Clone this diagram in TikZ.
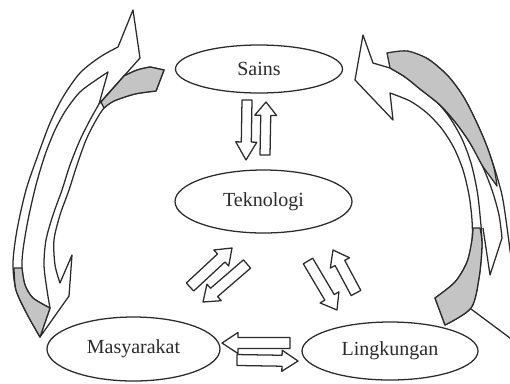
\documentclass[tikz,border=0pt]{standalone}
\usepackage{fontspec}
\setmainfont{Liberation Serif}
\usetikzlibrary{calc,shapes.geometric}
\definecolor{ink}{HTML}{2B2B2B}
\definecolor{shade}{HTML}{C4C4C4}
\tikzset{
  outline/.style={draw=ink, line width=0.95pt, line join=round},
  band/.style={outline, fill=white},
  backside/.style={outline, fill=shade},
  blob/.style={ellipse, draw=ink, line width=0.95pt, fill=white, inner sep=0pt,
    font=\fontsize{15}{15}\selectfont, text=ink},
  arrowbox/.style={outline, fill=white},
}
\newcommand\blockarrow[5]{%
  \coordinate (#1#2h) at ($(#2)!#5!(#1)$);
  \draw[arrowbox] ($(#1)!#3!90:(#2)$) -- ($(#1#2h)!#3!90:(#2)$) -- ($(#1#2h)!#4!90:(#2)$)
    -- (#2) -- ($(#1#2h)!#4!-90:(#2)$) -- ($(#1#2h)!#3!-90:(#2)$) -- ($(#1)!#3!-90:(#2)$) -- cycle;}
\begin{document}
\begin{tikzpicture}[x=0.75pt,y=-0.75pt]
\useasboundingbox (0,0) rectangle (510,383);
\clip (0,0) rectangle (510,383);
% ---------- left big arrows ----------
\draw[band] plot[smooth] coordinates {(40,337) (27,314) (16,290) (13,263) (17,230) (26,190) (38,155) (50,123) (63,97) (80,73) (100,57) (118,47)}
  -- (133,10) -- (140,58) -- (99,104) -- (108,72)
  -- plot[smooth] coordinates {(108,72) (96,80) (80,92) (66,110) (55,130) (45,155) (36,185) (28,220) (23,250) (22,268) (25,285) (33,298) (50,308)} -- cycle;
\draw[band] plot[smooth] coordinates {(50,308) (47,290) (44,265) (46,240) (53,215) (62,190) (70,165) (80,140) (90,120) (99,104)}
  -- (124,76) -- plot[smooth] coordinates {(124,76) (137,70) (150,67)} -- (164,70) -- (156,91)
  -- plot[smooth] coordinates {(156,91) (135,94) (114,101) (104,108) (95,122) (86,140) (77,165) (69,190) (60,215) (54,240) (55,265) (60,283)}
  -- (72,255) -- (69,296) -- (40,337) -- cycle;
\draw[backside] plot[smooth] coordinates {(124,76) (137,70) (150,67)} -- (164,70) -- (156,91)
  -- plot[smooth] coordinates {(156,91) (135,94) (114,101) (104,108)} -- (101,102) -- cycle;
\draw[backside] plot[smooth] coordinates {(14,268) (16,290) (27,314) (40,337)} -- (50,308)
  -- plot[smooth] coordinates {(50,308) (33,298) (25,285) (22,268)} -- cycle;
% ---------- right big arrows ----------
\draw[band] (390,68) -- (373,63) -- (363,35) -- (355,80) -- (393,120) -- (390,93)
  -- plot[smooth] coordinates {(390,93) (410,101) (427,113) (442,129) (454,148) (463,170) (469,195) (472,220) (472,240) (467,262) (455,282) (435,298)}
  -- (445,325)
  -- plot[smooth] coordinates {(445,325) (471,308) (479,278) (482,245) (480,215) (477,190) (471,163) (462,139) (450,118) (436,101) (420,89)}
  -- plot[smooth] coordinates {(420,89) (405,77) (390,68)} -- cycle;
\draw[outline] plot[smooth] coordinates {(407,51) (428,59) (448,76) (463,96) (475,119) (486,144) (495,170) (502,195) (506,220) (510,250) (514,280)};
\draw[outline] plot[smooth] coordinates {(420,89) (440,105) (456,123) (470,143) (482,165) (492,190) (499,215) (502,238)} -- (490,275) -- (483,228);
\draw[outline] (471,309) -- (514,341);
\draw[backside] plot[smooth] coordinates {(387,53) (407,51) (428,59) (448,76) (463,96) (475,119) (486,144) (494,168) (497,186)}
  -- plot[smooth] coordinates {(497,186) (489,175) (482,165) (470,143) (456,123) (440,105) (420,89) (405,77) (390,68)} -- cycle;
\draw[backside] plot[smooth] coordinates {(473,228) (472,240) (467,262) (455,282) (435,298)} -- (445,325)
  -- plot[smooth] coordinates {(445,325) (471,308) (479,278) (482,245) (480,228)} -- cycle;
% ---------- nodes ----------
\node[blob, minimum width=125.25pt, minimum height=36pt] (sains) at (259,69) {Sains};
\node[blob, minimum width=132.75pt, minimum height=47.25pt] (tek) at (263.5,201.5) {Teknologi};
\node[blob, minimum width=129.75pt, minimum height=48pt] (mas) at (133.5,349) {Masyarakat};
\node[blob, minimum width=132pt, minimum height=43.5pt] (ling) at (390,351) {Lingkungan};
% ---------- small block arrows ----------
\coordinate (a1) at (247,100); \coordinate (a2) at (246,160);
\coordinate (b1) at (265,155); \coordinate (b2) at (266,102);
\coordinate (c1) at (247,264); \coordinate (c2) at (203,302);
\coordinate (d1) at (190,287); \coordinate (d2) at (232,248);
\coordinate (e1) at (308,261); \coordinate (e2) at (337,310);
\coordinate (f1) at (356,293); \coordinate (f2) at (333,250);
\coordinate (g1) at (290,343); \coordinate (g2) at (222,343);
\coordinate (h1) at (237,360); \coordinate (h2) at (298,361);
\blockarrow{a1}{a2}{3.75pt}{7.9pt}{13.5pt}
\blockarrow{b1}{b2}{3.75pt}{8.2pt}{10pt}
\blockarrow{c1}{c2}{4.1pt}{8.2pt}{11pt}
\blockarrow{d1}{d2}{4.1pt}{8.2pt}{11pt}
\blockarrow{e1}{e2}{4.1pt}{8.2pt}{11pt}
\blockarrow{f1}{f2}{4.1pt}{8.2pt}{11pt}
\blockarrow{g1}{g2}{4.1pt}{7.9pt}{12pt}
\blockarrow{h1}{h2}{4.1pt}{7.9pt}{12pt}
\end{tikzpicture}
\end{document}
